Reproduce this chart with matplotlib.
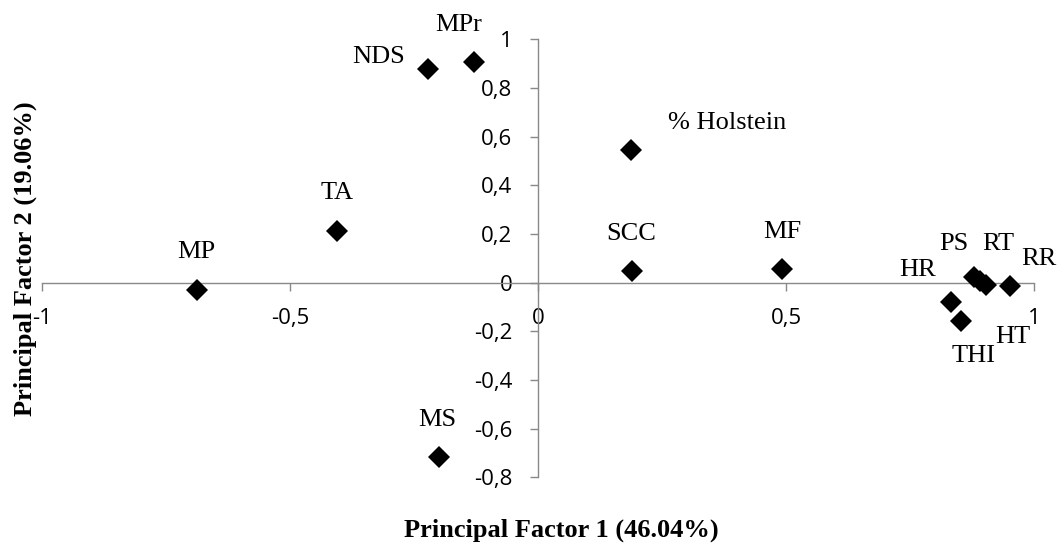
import matplotlib
matplotlib.use("Agg")
import matplotlib.pyplot as plt
from matplotlib.ticker import FixedLocator, FixedFormatter

# factor loadings
names = ['MP', 'TA', 'NDS', 'MPr', 'MS', '% Holstein', 'SCC', 'MF',
         'HR', 'PS', 'RT', 'RR', 'THI', 'HT']
pf1 = [-0.688, -0.404, -0.221, -0.129, -0.200, 0.187, 0.189, 0.492,
       0.832, 0.878, 0.904, 0.951, 0.853, 0.892]
pf2 = [-0.030, 0.213, 0.879, 0.906, -0.717, 0.544, 0.047, 0.057,
       -0.078, 0.025, -0.009, -0.012, -0.157, 0.008]

# label offsets from each marker, in pixels (dy > 0 is up)
label_dx = [0, 0, -50, -15, -1, 96, 0, 0, -33, -20, 12, 29, 12, 32]
label_dy = [38, 38, 12, 37, 37, 27, 37, 37, 32, 33, 41, 27, -35, -56]

xticks = [-1, -0.5, 0, 0.5, 1]
xtick_labels = ['-1', '-0,5', '0', '0,5', '1']
yticks = [-0.8, -0.6, -0.4, -0.2, 0, 0.2, 0.4, 0.6, 0.8, 1]
ytick_labels = ['-0,8', '-0,6', '-0,4', '-0,2', '0', '0,2', '0,4', '0,6', '0,8', '1']

axis_grey = '#898989'
serif = 'Liberation Serif'

fig = plt.figure(figsize=(10.57, 5.46), dpi=100)
ax = fig.add_axes([0.0395, 0.1256, 0.9388, 0.8021])

ax.plot(pf1, pf2, 'D', color='black', markersize=11, markeredgewidth=0, zorder=3)

for name, x, y, dx, dy in zip(names, pf1, pf2, label_dx, label_dy):
    ax.annotate(name, (x, y), xytext=(dx, dy), textcoords='offset pixels',
                ha='center', va='center', fontsize=19, family=serif, color='black')

ax.set_xlim(-1, 1)
ax.set_ylim(-0.8, 1)

for side in ['top', 'right']:
    ax.spines[side].set_visible(False)
for side in ['left', 'bottom']:
    ax.spines[side].set_position(('data', 0))
    ax.spines[side].set_color(axis_grey)
    ax.spines[side].set_linewidth(1.0)

ax.xaxis.set_major_locator(FixedLocator(xticks))
ax.xaxis.set_major_formatter(FixedFormatter(xtick_labels))
ax.yaxis.set_major_locator(FixedLocator(yticks))
ax.yaxis.set_major_formatter(FixedFormatter(ytick_labels))
ax.tick_params(axis='both', direction='out', length=5.5, width=1.0, color=axis_grey,
               labelsize=16, pad=13, labelcolor='black')
for lab in ax.get_xticklabels() + ax.get_yticklabels():
    lab.set_family('Open Sans')

ax.patch.set_visible(False)

fig.text(561 / 1057, 1 - 530 / 546, 'Principal Factor 1 (46.04%)', ha='center', va='center',
         fontsize=19, fontweight='bold', family=serif)
fig.text(25 / 1057, 1 - 259 / 546, 'Principal Factor 2 (19.06%)', ha='center', va='center',
         rotation=90, fontsize=19, fontweight='bold', family=serif)

fig.savefig('out.png', dpi=100)
